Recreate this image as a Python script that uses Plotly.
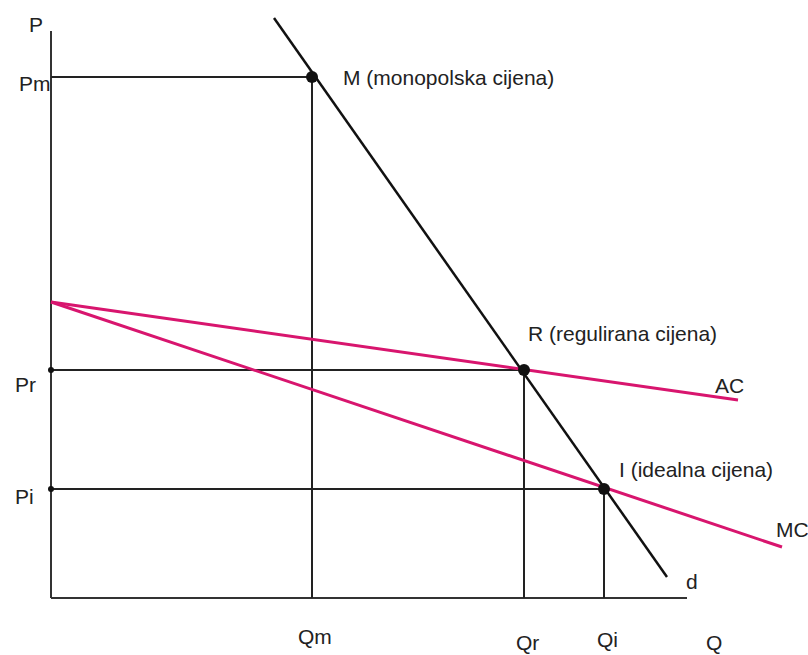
import plotly.graph_objects as go

# Economic quantities (arbitrary units)
Q_labels = ["Qm", "Qr", "Qi"]
Q_values = [26.1, 47.3, 55.3]
P_labels = ["Pm", "Pr", "Pi"]
P_values = [52.1, 22.8, 10.9]
point_names = ["M (monopolska cijena)", "R (regulirana cijena)", "I (idealna cijena)"]

demand_Q = [22.3, 61.6]
demand_P = [58.0, 2.1]
ac_Q = [0.0, 68.7]
ac_P = [29.6, 19.8]
mc_Q = [0.0, 73.1]
mc_P = [29.6, 5.1]
axis_Q_max = 63.6
axis_P_max = 56.7

BLACK = "#111111"
PINK = "#D8156E"
FONT = "Liberation Sans, Arial, sans-serif"

fig = go.Figure()

# axes
fig.add_trace(go.Scatter(x=[0, 0], y=[0, axis_P_max], mode="lines",
                         line=dict(color="#333333", width=2), hoverinfo="skip"))
fig.add_trace(go.Scatter(x=[0, axis_Q_max], y=[0, 0], mode="lines",
                         line=dict(color="#333333", width=2), hoverinfo="skip"))

# guide lines
for q, p in zip(Q_values, P_values):
    fig.add_trace(go.Scatter(x=[0, q, q], y=[p, p, 0], mode="lines",
                             line=dict(color="#222222", width=2), hoverinfo="skip"))

# cost curves
fig.add_trace(go.Scatter(x=ac_Q, y=ac_P, mode="lines",
                         line=dict(color=PINK, width=3), hoverinfo="skip"))
fig.add_trace(go.Scatter(x=mc_Q, y=mc_P, mode="lines",
                         line=dict(color=PINK, width=3), hoverinfo="skip"))

# demand
fig.add_trace(go.Scatter(x=demand_Q, y=demand_P, mode="lines",
                         line=dict(color=BLACK, width=2.5), hoverinfo="skip"))

# small dots on price axis
fig.add_trace(go.Scatter(x=[0, 0], y=P_values[1:], mode="markers",
                         marker=dict(color=BLACK, size=6), hoverinfo="skip"))

# equilibrium points
fig.add_trace(go.Scatter(x=Q_values, y=P_values, mode="markers",
                         marker=dict(color=BLACK, size=12), hoverinfo="skip"))

ann = []
def txt(x, y, s, xanchor="center"):
    ann.append(dict(x=x, y=y, text=s, showarrow=False, xanchor=xanchor,
                    yanchor="middle", font=dict(family=FONT, size=21, color="#222222")))

txt(-1.5, 57.4, "P")
txt(66.3, -4.4, "Q")
for lab, p, dx, dy in zip(P_labels, P_values, [-3.4, -3.8, -3.8], [-0.6, -1.4, -0.7]):
    txt(dx, p + dy, lab, "left")
for lab, q, y in zip(Q_labels, Q_values, [-3.8, -4.4, -4.1]):
    txt(q + 0.3, y, lab)
txt(63.3, 1.7, "d", "left")
offsets = [(2.9, 0.0), (0.2, 3.7), (1.3, 2.0)]
for name, q, p, (dx, dy) in zip(point_names, Q_values, P_values, offsets):
    txt(q + dx, p + dy, name, "left")
txt(66.2, 21.3, "AC", "left")
txt(72.3, 6.9, "MC", "left")

fig.update_layout(
    width=808, height=655,
    margin=dict(l=0, r=0, t=0, b=0),
    paper_bgcolor="white", plot_bgcolor="white",
    showlegend=False,
    xaxis=dict(range=[-5.1, 75.7], visible=False, fixedrange=True),
    yaxis=dict(range=[-5.7, 59.8], visible=False, fixedrange=True),
    annotations=ann,
)

fig.write_html("out.html", config={"displayModeBar": False},
               post_script="document.body.style.margin='0';document.body.style.overflow='hidden';")
